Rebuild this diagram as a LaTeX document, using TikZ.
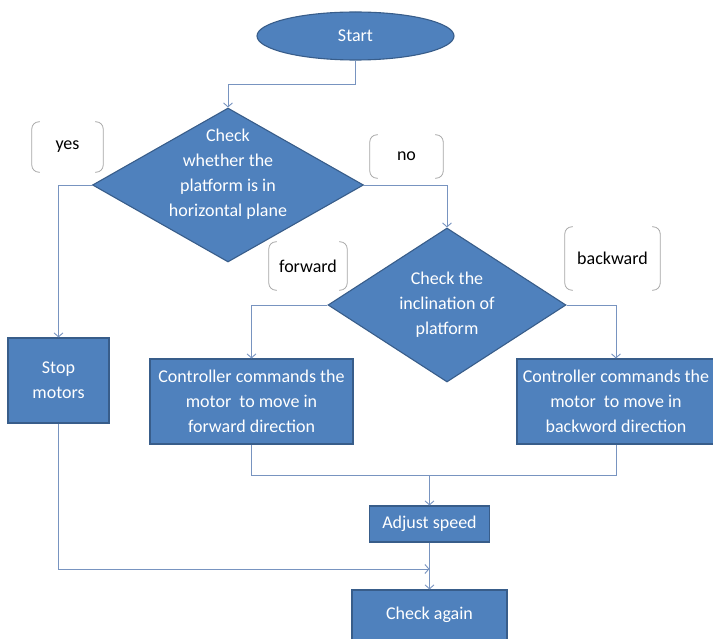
\documentclass[tikz,border=0pt]{standalone}
\usepackage{fontspec}
\setmainfont{Carlito}
\usepackage{tikz}
\usetikzlibrary{shapes.geometric, arrows.meta}
\definecolor{boxblue}{RGB}{79,129,189}
\definecolor{boxedge}{RGB}{56,93,138}
\definecolor{linecol}{RGB}{120,148,192}
\definecolor{brkgray}{RGB}{165,165,165}

\begin{document}
\begin{tikzpicture}[x=1pt, y=-1pt,
		every node/.style={font=\fontsize{18}{25}\selectfont, align=center},
		blk/.style={rectangle, fill=boxblue, draw=boxedge, line width=1.1pt, text=white, inner sep=0pt},
		term/.style={ellipse, fill=boxblue, draw=boxedge, line width=1.1pt, text=white, inner sep=0pt},
		decision/.style={diamond, fill=boxblue, draw=boxedge, line width=1.1pt, inner sep=0pt},
		dtext/.style={text=white, inner sep=0pt},
		tag/.style={inner sep=0pt},
		brk/.style={brkgray, line width=0.8pt, rounded corners=7pt},
		line/.style={linecol, line width=0.9pt},
		conn/.style={line, -{Straight Barb[length=4pt, width=9pt]}}]
			\useasboundingbox (0,0) rectangle (713,639);
			\node[term, minimum width=197pt, minimum height=48pt] (start) at (355.5,36) {Start};
			\node[decision, minimum width=271pt, minimum height=154pt,
				label={[dtext, name=chk1-t, yshift=11pt]center:Check\\whether the\\platform is in\\horizontal plane}] (chk1) at (228,185) {};
			\node[decision, minimum width=238pt, minimum height=154pt,
				label={[dtext, name=chk2-t]center:Check the\\inclination of\\platform}] (chk2) at (447,305) {};
			\node[tag, minimum width=71pt, minimum height=50pt] (yes) at (67.5,147) {yes};
			\node[tag, minimum width=73pt, minimum height=43pt] (no) at (406.5,156.5) {no};
			\node[tag, minimum width=78pt, minimum height=48pt] (fwd) at (308,266) {forward};
			\node[tag, minimum width=95pt, minimum height=63pt] (bwd) at (612.5,258.5) {backward};
			\node[blk, minimum width=101pt, minimum height=85pt] (stop) at (58.5,380.5) {Stop\\motors};
			\node[blk, minimum width=203pt, minimum height=85pt] (fwdbox) at (251.5,401.5) {Controller commands the\\motor~ to move in\\forward direction};
			\node[blk, minimum width=198pt, minimum height=85pt] (bwdbox) at (616,401.5) {Controller commands the\\motor~ to move in\\backword direction};
			\node[blk, minimum width=120pt, minimum height=36pt] (adj) at (429.5,524) {Adjust speed};
			\node[blk, minimum width=155pt, minimum height=50pt] (again) at (429.5,615) {Check again};
			\coordinate (merge) at (429.5,475);
			\coordinate (meet) at (429.5,569);
			\foreach \n in {yes,no,fwd,bwd} {
				\draw[brk] ([xshift=8pt]\n.north west) -- (\n.north west) -- (\n.south west) -- ([xshift=8pt]\n.south west);
				\draw[brk] ([xshift=-8pt]\n.north east) -- (\n.north east) -- (\n.south east) -- ([xshift=-8pt]\n.south east);
			}
			\draw[conn] (start.south) -- ++(0,24) -| (chk1.north);
			\draw[conn] (chk1.west) -| (stop.north);
			\draw[conn] (chk1.east) -| (chk2.north);
			\draw[conn] (chk2.west) -| (fwdbox.north);
			\draw[conn] (chk2.east) -| (bwdbox.north);
			\draw[line] (fwdbox.south) |- (merge);
			\draw[line] (bwdbox.south) |- (merge);
			\draw[conn] (merge) -- (adj.north);
			\draw[conn] (adj.south) -- (again.north);
			\draw[conn] (stop.south) |- (meet);
		\end{tikzpicture}
\end{document}
